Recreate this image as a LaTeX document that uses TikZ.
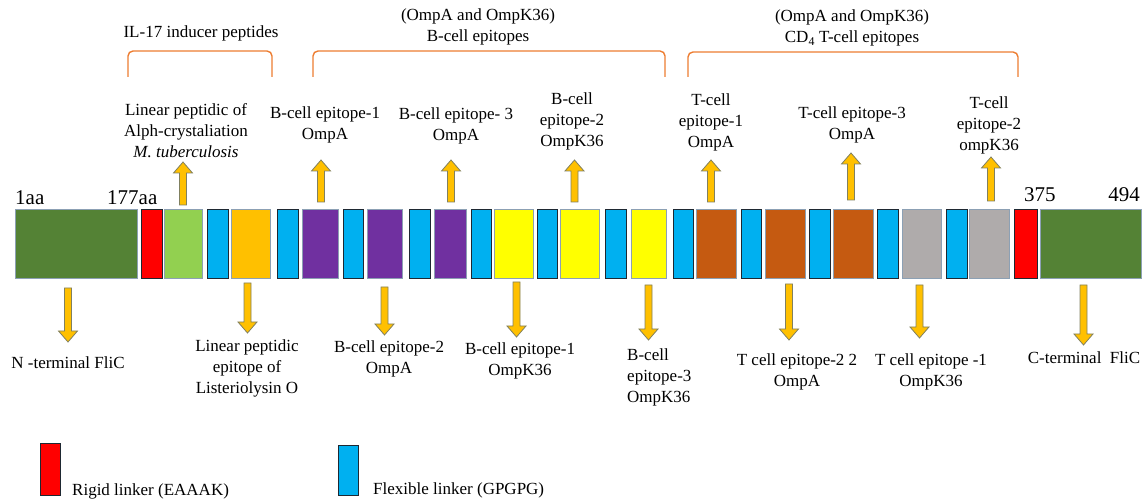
\documentclass[tikz,border=0pt]{standalone}
\usepackage{fontspec}
\setmainfont{Liberation Serif}
\usetikzlibrary{calc}

\definecolor{fligreen}{HTML}{548235}
\definecolor{rigidred}{HTML}{FF0000}
\definecolor{alphgreen}{HTML}{92D050}
\definecolor{flexblue}{HTML}{00B0F0}
\definecolor{lloorange}{HTML}{FFC000}
\definecolor{bpurple}{HTML}{7030A0}
\definecolor{byellow}{HTML}{FFFF00}
\definecolor{tbrown}{HTML}{C55A11}
\definecolor{tgray}{HTML}{AFABAB}
\definecolor{edgelt}{RGB}{140,160,180}
\definecolor{edgedk}{RGB}{30,40,50}
\definecolor{arrowfill}{HTML}{FFC000}
\definecolor{arrowedge}{RGB}{128,128,96}
\definecolor{brk}{HTML}{ED7D31}

\tikzset{
  block/.style={draw=edgelt, line width=1pt, inner sep=0pt, outer sep=0pt, minimum height=69pt},
  lbl/.style={font=\fontsize{17}{21}\selectfont, align=center, inner sep=0pt},
  aalbl/.style={font=\fontsize{21}{25}\selectfont, inner sep=0pt},
  bracket/.style={draw=brk, line width=1.4pt, rounded corners=5pt},
  fatarrow/.style={fill=arrowfill, draw=arrowedge, line width=0.8pt}
}

\newcommand{\epiarrow}[2]{%
  \filldraw[fatarrow] let \p1=(#1), \p2=(#2), \p3=($(#2)!11pt!(#1)$) in
    (\x1-3.5pt,\y1) -- (\x1-3.5pt,\y3) -- (\x1-9.5pt,\y3) -- (\x1,\y2)
    -- (\x1+9.5pt,\y3) -- (\x1+3.5pt,\y3) -- (\x1+3.5pt,\y1) -- cycle;}

\begin{document}
\begin{tikzpicture}[x=1pt,y=-1pt]

\useasboundingbox (0,0) rectangle (1148,502);

\foreach \nm/\xa/\xb/\col/\edg in {
  nterm/15/137/fligreen/edgelt, r1/141/162/rigidred/edgedk, alph/164/202/alphgreen/edgelt,
  f1/207/228/flexblue/edgedk, llo/231/270/lloorange/edgelt, f2/277/298/flexblue/edgedk,
  p1/302/338/bpurple/edgelt, f3/343/363/flexblue/edgedk, p2/367/402/bpurple/edgelt,
  f4/409/430/flexblue/edgedk, p3/434/466/bpurple/edgelt, f5/471/491/flexblue/edgedk,
  y1/494/533/byellow/edgelt, f6/537/557/flexblue/edgedk, y2/560/599/byellow/edgelt,
  f7/605/626/flexblue/edgedk, y3/631/666/byellow/edgelt, f8/673/693/flexblue/edgedk,
  t1/696/736/tbrown/edgelt, f9/741/761/flexblue/edgedk, t2/765/805/tbrown/edgelt,
  f10/809/830/flexblue/edgedk, t3/833/873/tbrown/edgelt, f11/877/898/flexblue/edgedk,
  g1/902/941/tgray/edgelt, f12/946/967/flexblue/edgedk, g2/969/1009/tgray/edgelt,
  r2/1014/1037/rigidred/edgedk, cterm/1040/1141/fligreen/edgelt}
  \node[block, fill=\col, draw=\edg, minimum width=(\xb-\xa)*1pt, anchor=north west] (\nm) at (\xa,210) {};

\node[aalbl, anchor=base west] (aa1) at (15,205) {1aa};
\node[aalbl, anchor=base west] (aa177) at (107,205) {177aa};
\node[aalbl, anchor=base west] (aa375) at (1024,202) {375};
\node[aalbl, anchor=base east] (aa494) at (1140,202) {494};

\draw[bracket] (128,77) -- (128,51) -- (272,51) -- (272,77);
\draw[bracket] (313,77) -- (313,51) -- (665,51) -- (665,77);
\draw[bracket] (688,77) -- (688,52) -- (1018,52) -- (1018,77);

\node[lbl] (il17) at (201,33) {IL-17 inducer peptides};
\node[lbl] (bepi) at (478,27) {(OmpA and OmpK36)\\B-cell epitopes};
\node[lbl] (tepi) at (852,28) {(OmpA and OmpK36)\\CD\textsubscript{4} T-cell epitopes};

\node[lbl] (lalph) at (186,131) {Linear peptidic of\\Alph-crystaliation\\\textit{M. tuberculosis}};
\node[lbl] (lp1) at (325,125) {B-cell epitope-1\\OmpA};
\node[lbl] (lp3) at (456,126) {B-cell epitope- 3\\OmpA};
\node[lbl] (ly2) at (572,121) {B-cell\\epitope-2\\OmpK36};
\node[lbl] (lt1) at (711,122) {T-cell\\epitope-1\\OmpA};
\node[lbl] (lt3) at (852,125) {T-cell epitope-3\\OmpA};
\node[lbl] (lg2) at (989,125) {T-cell\\epitope-2\\ompK36};

\node[lbl] (lnterm) at (68,363) {N -terminal FliC};
\node[lbl] (lllo) at (247,368) {Linear peptidic\\epitope of\\Listeriolysin O};
\node[lbl] (lp2) at (389,359) {B-cell epitope-2\\OmpA};
\node[lbl] (ly1) at (520,361) {B-cell epitope-1\\OmpK36};
\node[lbl, align=left, anchor=west] (ly3) at (627,377) {B-cell\\epitope-3\\OmpK36};
\node[lbl] (lt2) at (797,372) {T cell epitope-2 2\\OmpA};
\node[lbl] (lg1) at (931,372) {T cell epitope -1\\OmpK36};
\node[lbl] (lcterm) at (1084,358) {C-terminal~ FliC};

\epiarrow{$(alph.north)+(0,-5)$}{$(alph.north)+(0,-48)$}
\epiarrow{$(p1.north)+(1,-8)$}{$(p1.north)+(1,-50)$}
\epiarrow{$(p3.north)+(1,-8)$}{$(p3.north)+(1,-50)$}
\epiarrow{$(y2.north)+(-5,-8)$}{$(y2.north)+(-5,-50)$}
\epiarrow{$(t1.north)+(-5,-8)$}{$(t1.north)+(-5,-50)$}
\epiarrow{$(t3.north)+(-2,-10)$}{$(t3.north)+(-2,-57)$}
\epiarrow{$(g2.north)+(2,-9)$}{$(g2.north)+(2,-53)$}

\epiarrow{$(nterm.south)+(-8,9)$}{$(nterm.south)+(-8,63)$}
\epiarrow{$(llo.south)+(-3,4)$}{$(llo.south)+(-3,54)$}
\epiarrow{$(p2.south)+(0,8)$}{$(p2.south)+(0,56)$}
\epiarrow{$(y1.south)+(3,3)$}{$(y1.south)+(3,58)$}
\epiarrow{$(y3.south)+(0,6)$}{$(y3.south)+(0,61)$}
\epiarrow{$(t2.south)+(4,5)$}{$(t2.south)+(4,61)$}
\epiarrow{$(g1.south)+(-2,6)$}{$(g1.south)+(-2,59)$}
\epiarrow{$(cterm.south)+(-7,6)$}{$(cterm.south)+(-7,66)$}

\node[block, fill=rigidred, draw=edgedk, minimum width=20pt, minimum height=52pt, anchor=north west] (legrigid) at (40,443) {};
\node[lbl, anchor=base west] (legrigidtxt) at (72,495) {Rigid linker (EAAAK)};
\node[block, fill=flexblue, draw=edgedk, minimum width=20pt, minimum height=50pt, anchor=north west] (legflex) at (338,445) {};
\node[lbl, anchor=base west] (legflextxt) at (373,494) {Flexible linker (GPGPG)};

\end{tikzpicture}
\end{document}
